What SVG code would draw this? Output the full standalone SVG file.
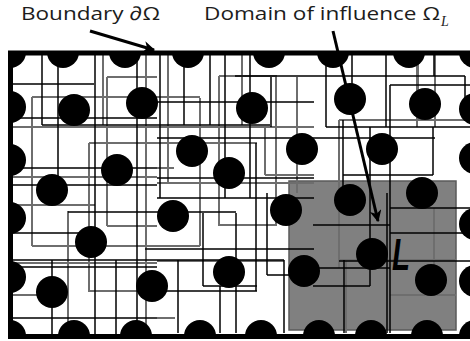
<svg xmlns="http://www.w3.org/2000/svg" width="470" height="341" viewBox="0 0 470 341">
<defs>
<style>
.t{font-family:"Open Sans","Liberation Sans",sans-serif;font-size:19px;fill:#1c1c1c}
.k{stroke:#000;stroke-width:1.5;fill:none}
.g{stroke:#6e6e6e;stroke-width:2;fill:none}
.n{fill:#000}
.ar{stroke:#000;stroke-width:3;fill:none}
</style>
<clipPath id="cl"><rect x="10.5" y="53" width="470" height="283.5"/></clipPath>
<marker id="ah" viewBox="0 0 10 10" refX="9" refY="5" markerWidth="4" markerHeight="4" orient="auto" markerUnits="strokeWidth">
<path d="M0,0 L10,5 L0,10 L3,5 Z" fill="#000"/>
</marker>
</defs>
<rect width="470" height="341" fill="#fff"/>
<g clip-path="url(#cl)">
<rect id="domain" x="289" y="181" width="167" height="149" fill="#808080" stroke="#5a5a5a" stroke-width="1.5"/>
<g id="grid-gray" class="g">
<path d="M32,97V246 M68,211V336 M89,143V291 M103,53V125 M107,77V226 M146,53V336 M168,53V183 M200,98V246 M219,76V226 M242,53V125 M265,127V175 M276,76V226 M297,77V193 M339,120V268 M346,260V333 M417,53V127 M435,53V127 M434,208V296 M418,53V120"/>
<path d="M219,76H277 M107,77H157 M32,97H200 M13,127H314 M89,143H257 M13,177H157 M157,183H314 M157,168H174 M265,175H314 M13,205H95 M107,226H157 M219,225H276 M32,246H200 M13,263H157 M157,261H284 M88,291H157 M13,295H68 M157,318H175 M339,120H470 M339,260H456 M390,295H456"/>
</g>
<g id="grid-black" class="k">
<path d="M42,53V125 M58,53V182 M95,53V336 M137,53V336 M52,260V336 M116,260V336 M160,53V198 M184,53V125 M210,53V125 M225,53V198 M250,53V198 M271,77V127 M178,260V333 M203,213V286 M220,286V333 M236,213V333 M256,143V291 M267,193V275 M284,260V333 M326,53V127 M343,120V205 M344,260V333 M352,53V115 M370,127V286 M386,53V127 M390,85V333 M387,193V333 M433,127V175 M434,53V76 M465,76V120"/>
<path d="M13,84H94 M13,118H157 M42,125H270 M13,168H157 M13,185H157 M235,76H465 M157,102H314 M157,138H435 M157,178H314 M68,212H236 M13,233H95 M145,249H314 M13,260H284 M13,267H157 M13,318H157 M157,198H314 M267,275H314 M203,286H257 M313,286H370 M157,291H257 M390,85H470 M326,127H470 M343,175H433 M390,208H470 M313,225H390 M390,233H470 M313,268H390 M339,261H470"/>
</g>
<g id="nodes" class="n">
<circle cx="10" cy="52" r="16"/><circle cx="63" cy="52" r="16"/><circle cx="125" cy="52" r="16"/><circle cx="188" cy="52" r="16"/><circle cx="269" cy="52" r="16"/><circle cx="333" cy="52" r="16"/><circle cx="409" cy="52" r="16"/><circle cx="475" cy="52" r="16"/>
<circle cx="10" cy="107" r="16"/><circle cx="10" cy="160" r="16"/><circle cx="10" cy="218" r="16"/><circle cx="10" cy="277" r="16"/><circle cx="10" cy="336" r="16"/>
<circle cx="74" cy="336" r="16"/><circle cx="136" cy="336" r="16"/><circle cx="200" cy="336" r="16"/><circle cx="261" cy="336" r="16"/><circle cx="319" cy="336" r="16"/><circle cx="371" cy="336" r="16"/><circle cx="427" cy="336" r="16"/><circle cx="475" cy="336" r="16"/>
<circle cx="475" cy="109" r="16"/><circle cx="475" cy="158" r="16"/><circle cx="475" cy="224" r="16"/><circle cx="475" cy="281" r="16"/>
<circle cx="74" cy="110" r="16"/><circle cx="142" cy="103" r="16"/><circle cx="117" cy="170" r="16"/><circle cx="52" cy="190" r="16"/><circle cx="91" cy="242" r="16"/><circle cx="52" cy="292" r="16"/><circle cx="152" cy="286" r="16"/><circle cx="252" cy="108" r="16"/><circle cx="192" cy="151" r="16"/><circle cx="229" cy="173" r="16"/><circle cx="302" cy="149" r="16"/><circle cx="350" cy="99" r="16"/><circle cx="425" cy="104" r="16"/><circle cx="382" cy="149" r="16"/><circle cx="422" cy="193" r="16"/><circle cx="350" cy="200" r="16"/><circle cx="173" cy="216" r="16"/><circle cx="286" cy="210" r="16"/><circle cx="229" cy="272" r="16"/><circle cx="304" cy="271" r="16"/><circle cx="372" cy="254" r="16"/><circle cx="431" cy="280" r="16"/>
</g>
</g>
<rect id="boundary" x="10.5" y="53" width="480" height="283.5" fill="none" stroke="#000" stroke-width="5"/>
<g id="connectors">
<line class="ar" x1="90" y1="31" x2="154" y2="50" marker-end="url(#ah)"/>
<line class="ar" x1="333" y1="31" x2="378" y2="221" marker-end="url(#ah)"/>
</g>
<g id="labels">
<text class="t" x="21" y="20" textLength="139" lengthAdjust="spacingAndGlyphs">Boundary ∂Ω</text>
<text class="t" x="204" y="20" textLength="236" lengthAdjust="spacingAndGlyphs">Domain of influence Ω</text>
<text x="441" y="26" font-family="Liberation Serif,serif" font-style="italic" font-size="14" fill="#1c1c1c">L</text>
<text x="392" y="270" font-family="Liberation Sans,sans-serif" font-style="italic" font-weight="bold" font-size="44" textLength="18" lengthAdjust="spacingAndGlyphs" fill="#000">L</text>
</g>
</svg>
